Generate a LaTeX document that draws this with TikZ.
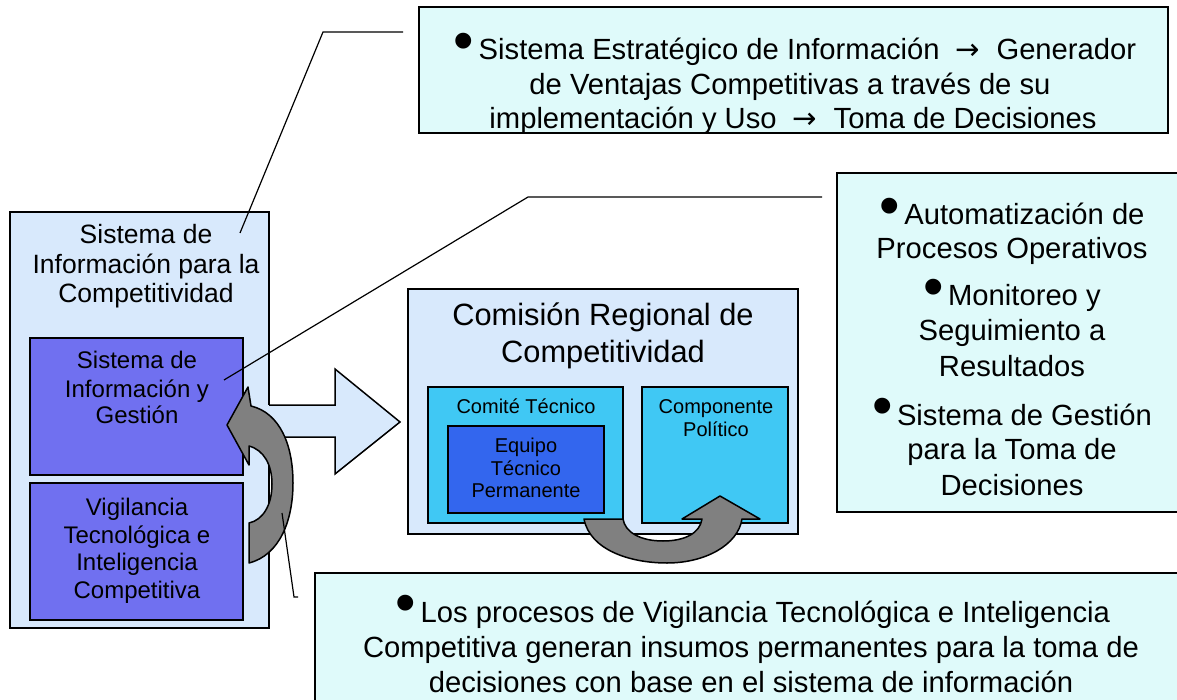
\documentclass[tikz,border=0pt]{standalone}
\usepackage{graphicx}
\usepackage{fontspec}
\setmainfont{Liberation Sans}
\newfontfamily\symfont{DejaVu Sans}
\definecolor{lblue}{HTML}{D8E9FC}
\definecolor{pblue}{HTML}{7070F0}
\definecolor{cyanb}{HTML}{40C8F4}
\definecolor{dblue}{HTML}{3366EE}
\definecolor{tbox}{HTML}{DFFAFA}
\definecolor{garr}{HTML}{808080}
\newcommand{\bul}{\raisebox{-0.02em}{\scalebox{2.0}{•}}\hspace{0.15em}}
\newcommand{\arr}{{\symfont →}}
\tikzset{
  bx/.style={draw=black, line width=1.5pt, inner sep=0pt, outer sep=0pt, anchor=north west},
  garrow/.style={draw=black, line width=1.5pt, fill=garr, line join=round},
  callout/.style={draw=black, line width=1.2pt},
  big/.style={font=\fontsize{29.2}{34}\selectfont, anchor=base, inner sep=0pt},
  ttl/.style={font=\fontsize{26.5}{30}\selectfont, anchor=base, inner sep=0pt},
  mid/.style={font=\fontsize{24}{27}\selectfont, anchor=base, inner sep=0pt},
  sml/.style={font=\fontsize{20}{23}\selectfont, anchor=base, inner sep=0pt},
  cmt/.style={font=\fontsize{30.8}{35}\selectfont, anchor=base, inner sep=0pt},
}
\begin{document}
\begin{tikzpicture}[x=1pt, y=-1pt]
\useasboundingbox (0,0) rectangle (1177,700);
\clip (0,0) rectangle (1177,700);
\fill[white] (0,0) rectangle (1177,700);

% left big box
\node[bx, fill=lblue, minimum width=259pt, minimum height=416pt] (sic) at (10,212) {};
% big light arrow
\fill[lblue] (245,405) -- (335,405) -- (335,369) -- (400,422) -- (335,474) -- (335,437) -- (245,437) -- cycle;
\draw[line width=1.5pt, line join=miter] (269,405) -- (335,405) -- (335,369) -- (400,422) -- (335,474) -- (335,437) -- (269,437);
% inner boxes
\node[bx, fill=pblue, minimum width=213pt, minimum height=137pt] (siyg) at (30,338) {};
\node[bx, fill=pblue, minimum width=213pt, minimum height=137pt] (vtic) at (30,483) {};

% Comision
\node[bx, fill=lblue, minimum width=390pt, minimum height=245pt] (crc) at (408,289) {};
\node[bx, fill=cyanb, minimum width=195pt, minimum height=136pt] (ct) at (428,387) {};
\node[bx, fill=dblue, minimum width=156pt, minimum height=87pt] (etp) at (448,426) {};
\node[bx, fill=cyanb, minimum width=146pt, minimum height=136pt] (cp) at (642,387) {};

% gray arrows
\draw[garrow] (249,563) .. controls (280,555) and (293,520) .. (293,483)
  .. controls (293,445) and (280,413) .. (251,406) -- (248,387) -- (227,425) -- (249,465) -- (249,446)
  .. controls (264,450) and (272,465) .. (272,484) .. controls (272,505) and (263,520) .. (249,523) -- cycle;
\draw[garrow] (584,519) .. controls (590,550) and (630,563) .. (667,563)
  .. controls (705,563) and (738,545) .. (742,519) -- (760,519) -- (720,496) -- (682,519) -- (702,519)
  .. controls (700,533) and (685,541) .. (663,541) .. controls (640,541) and (625,532) .. (623,519) -- cycle;

% text boxes
\node[bx, fill=tbox, minimum width=749pt, minimum height=126pt] (top) at (419,7) {};
\node[bx, fill=tbox, minimum width=400pt, minimum height=339pt] (rgt) at (837,173) {};
\node[bx, fill=tbox, minimum width=900pt, minimum height=200pt] (bot) at (315,573) {};

% callout lines
\coordinate (c1a) at (240,233); \coordinate (c1b) at (323,32); \coordinate (c1c) at (403,32);
\coordinate (c2a) at (224,380); \coordinate (c2b) at (528,197); \coordinate (c2c) at (822,197);
\coordinate (c3a) at (282,513); \coordinate (c3b) at (294,597); \coordinate (c3c) at (298,597);
\draw[callout] (c1a) -- (c1b) -- (c1c);
\draw[callout] (c2a) -- (c2b) -- (c2c);
\draw[callout] (c3a) -- (c3b) -- (c3c);

% texts: left
\node[ttl] (l1) at (146,244) {Sistema de};
\node[ttl] (l2) at (146,274) {Información para la};
\node[ttl] (l3) at (146,303) {Competitividad};
\node[mid] (s1) at (137,368) {Sistema de};
\node[mid] (s2) at (137,397) {Información y};
\node[mid] (s3) at (137,423) {Gestión};
\node[mid] (v1) at (137,515) {Vigilancia};
\node[mid] (v2) at (137,543) {Tecnológica e};
\node[mid] (v3) at (137,570) {Inteligencia};
\node[mid] (v4) at (137,598) {Competitiva};
% Comision
\node[cmt] (k1) at (603,326) {Comisión Regional de};
\node[cmt] (k2) at (603,362) {Competitividad};
\node[sml] (ct1) at (526,413) {Comité Técnico};
\node[sml] (e1) at (526,452) {Equipo};
\node[sml] (e2) at (526,475) {Técnico};
\node[sml] (e3) at (526,497) {Permanente};
\node[sml] (p1) at (716,413) {Componente};
\node[sml] (p2) at (716,436) {Político};
% top box
\begin{scope}
\clip (419,7) rectangle (1168,133);
\node[big] (ta) at (795,60) {\bul Sistema Estratégico de Información \ \arr\ \ Generador};
\node[big] (tb) at (790,95) {de Ventajas Competitivas a través de su};
\node[big] (tc) at (793,129) {implementación y Uso \ \arr\ \ Toma de Decisiones};
\end{scope}
% right box
\node[big] (r1) at (1012,225) {\bul Automatización de};
\node[big] (r2) at (1012,259) {Procesos Operativos};
\node[big] (r3) at (1012,306) {\bul Monitoreo y};
\node[big] (r4) at (1012,341) {Seguimiento a};
\node[big] (r5) at (1012,376) {Resultados};
\node[big] (r6) at (1012,425) {\bul Sistema de Gestión};
\node[big] (r7) at (1012,459) {para la Toma de};
\node[big] (r8) at (1012,495) {Decisiones};
% bottom box
\node[big] (b1) at (753,622) {\bul Los procesos de Vigilancia Tecnológica e Inteligencia};
\node[big] (b2) at (751,657) {Competitiva generan insumos permanentes para la toma de};
\node[big] (b3) at (751,692) {decisiones con base en el sistema de información};
\end{tikzpicture}
\end{document}
